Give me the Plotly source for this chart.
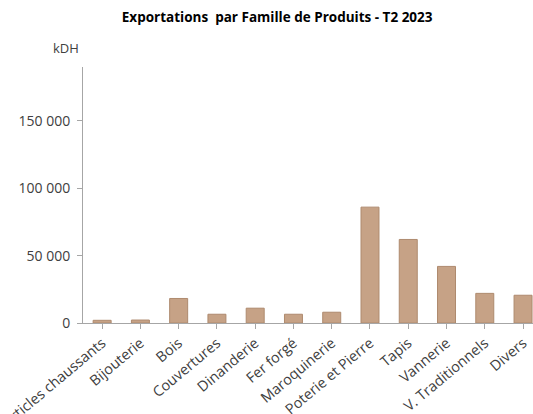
import plotly.graph_objects as go

categories = ["Articles chaussants", "Bijouterie", "Bois", "Couvertures", "Dinanderie",
              "Fer forgé", "Maroquinerie", "Poterie et Pierre", "Tapis", "Vannerie",
              "V. Traditionnels", "Divers"]
values = [2000, 2200, 18200, 6500, 11000, 6500, 8000, 86000, 62000, 42000, 22000, 20600]
ytick_vals = [0, 50000, 100000, 150000]
ytick_text = ["0", "50 000", "100 000", "150 000"]

fig = go.Figure(go.Bar(
    x=list(range(len(categories))), y=values, width=0.47,
    marker=dict(color="#C6A286", line=dict(color="#AE8A6E", width=1)),
))

fig.update_layout(
    width=533, height=414,
    margin=dict(l=83, r=0, t=67, b=91, autoexpand=False),
    paper_bgcolor="white", plot_bgcolor="white",
    showlegend=False,
    title=dict(text="<b>Exportations  par Famille de Produits - T2 2023</b>",
               x=0.52, xanchor="center", y=0.959, yanchor="middle",
               font=dict(family="Open Sans", size=13.5, color="#000000")),
    font=dict(family="Open Sans", color="#404040"),
)
fig.update_xaxes(
    range=[-0.5, 11.26], tickvals=list(range(len(categories))), ticktext=categories,
    tickangle=-40, tickfont=dict(size=14.5, color="#404040"), automargin=False,
    ticklabeloverflow="allow",
    showline=True, linecolor="#A6A6A6", linewidth=1,
    ticks="outside", ticklen=5, tickcolor="#A6A6A6", tickson="boundaries",
    showgrid=False, zeroline=False,
)
fig.update_yaxes(
    range=[0, 190000], tickvals=ytick_vals, ticktext=ytick_text,
    tickfont=dict(size=14, color="#404040"), automargin=False,
    showline=True, linecolor="#A6A6A6", linewidth=1,
    ticks="outside", ticklen=5, tickcolor="#A6A6A6", ticklabelstandoff=4,
    showgrid=False, zeroline=False,
)
fig.add_annotation(text="kDH", xref="paper", yref="paper", x=-0.005, y=1.075,
                   xanchor="right", yanchor="middle", showarrow=False,
                   font=dict(family="Open Sans", size=13, color="#404040"))

fig.write_html(
    "out.html",
    config={"displayModeBar": False},
    post_script="document.body.style.margin='0';document.body.style.overflow='hidden';",
)
